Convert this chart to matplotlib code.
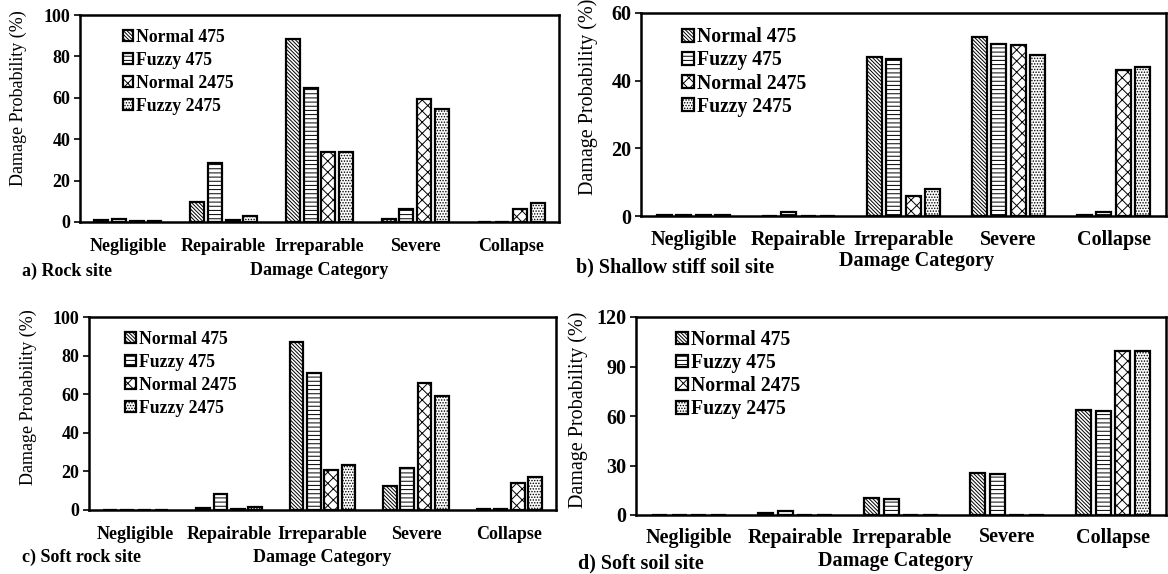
import matplotlib
matplotlib.use("Agg")
import matplotlib.pyplot as plt
import numpy as np

plt.rcParams['font.family'] = ['Liberation Serif', 'DejaVu Serif']
plt.rcParams['hatch.linewidth'] = 0.7

categories = ["Negligible", "Repairable", "Irreparable", "Severe", "Collapse"]
series_names = ["Normal 475", "Fuzzy 475", "Normal 2475", "Fuzzy 2475"]

# a) Rock site
rock_normal475 = [0.8, 9.8, 88.6, 1.3, 0.2]
rock_fuzzy475 = [1.3, 28.5, 64.9, 6.1, 0.2]
rock_normal2475 = [0.3, 1.0, 33.7, 59.4, 6.1]
rock_fuzzy2475 = [0.3, 2.7, 33.7, 54.6, 9.2]

# b) Shallow stiff soil site
stiff_normal475 = [0.2, 0.1, 47.0, 52.9, 0.2]
stiff_fuzzy475 = [0.2, 1.2, 46.4, 50.9, 1.1]
stiff_normal2475 = [0.2, 0.1, 6.0, 50.6, 43.2]
stiff_fuzzy2475 = [0.2, 0.1, 8.1, 47.6, 44.1]

# c) Soft rock site
softrock_normal475 = [0.2, 1.0, 87.1, 12.2, 0.3]
softrock_fuzzy475 = [0.2, 8.1, 70.9, 21.6, 0.3]
softrock_normal2475 = [0.2, 0.3, 20.5, 66.0, 13.8]
softrock_fuzzy2475 = [0.2, 1.7, 23.3, 59.1, 16.9]

# d) Soft soil site
softsoil_normal475 = [0.2, 1.2, 10.5, 25.3, 63.4]
softsoil_fuzzy475 = [0.2, 2.6, 9.9, 24.6, 63.0]
softsoil_normal2475 = [0.2, 0.3, 0.3, 0.3, 99.6]
softsoil_fuzzy2475 = [0.2, 0.3, 0.3, 0.3, 99.6]

ticks_a = [0, 20, 40, 60, 80, 100]
ticks_b = [0, 20, 40, 60]
ticks_c = [0, 20, 40, 60, 80, 100]
ticks_d = [0, 30, 60, 90, 120]

panel_titles = ["a) Rock site", "b) Shallow stiff soil site", "c) Soft rock site", "d) Soft soil site"]

hatches = ['\\' * 9, '-' * 4, 'xxx', '.' * 6]

W, H = 1168, 574
fig = plt.figure(figsize=(W / 100, H / 100), dpi=100)


def px_axes(left, right, top, bottom):
    return fig.add_axes([left / W, (H - bottom) / H, (right - left) / W, (bottom - top) / H])


panels = [
    dict(box=(80, 559, 15, 222), data=[rock_normal475, rock_fuzzy475, rock_normal2475, rock_fuzzy2475],
         ticks=ticks_a, ylc=(-0.111, 0.60), xlc=(0.5, -0.232), title_xy=(22, 271), legend=(0.089, 0.932),
         fs=13, pad=11.5, ls=0.33),
    dict(box=(641, 1166, 13, 216), data=[stiff_normal475, stiff_fuzzy475, stiff_normal2475, stiff_fuzzy2475],
         ticks=ticks_b, ylc=(-0.082, 0.586), xlc=(0.524, -0.22), title_xy=(576, 267), legend=(0.078, 0.93),
         fs=14.5, pad=10, ls=0.16),
    dict(box=(89, 556, 317, 510), data=[softrock_normal475, softrock_fuzzy475, softrock_normal2475, softrock_fuzzy2475],
         ticks=ticks_c, ylc=(-0.111, 0.585), xlc=(0.5, -0.244), title_xy=(22, 557), legend=(0.078, 0.927),
         fs=13, pad=11.5, ls=0.33),
    dict(box=(636, 1166, 317, 515), data=[softsoil_normal475, softsoil_fuzzy475, softsoil_normal2475, softsoil_fuzzy2475],
         ticks=ticks_d, ylc=(-0.09, 0.53), xlc=(0.489, -0.232), title_xy=(578, 563), legend=(0.076, 0.935),
         fs=14.5, pad=9, ls=0.16),
]

x = np.arange(len(categories))
bw = 0.145
step = 0.185

for p, title in zip(panels, panel_titles):
    fs = p['fs']
    ax = px_axes(*p['box'])
    for i, (vals, name, h) in enumerate(zip(p['data'], series_names, hatches)):
        ax.bar(x + (i - 1.5) * step, vals, width=bw, color='white', edgecolor='black',
               linewidth=1.6, hatch=h, label=name, zorder=2)
    ax.set_xlim(-0.5, len(categories) - 0.5)
    ax.set_ylim(p['ticks'][0], p['ticks'][-1])
    ax.set_yticks(p['ticks'])
    ax.set_xticks(x)
    ax.set_xticklabels(categories, fontsize=fs, fontweight='bold')
    ax.tick_params(axis='x', length=0, pad=p['pad'])
    ax.tick_params(axis='y', direction='out', length=4, width=1.2, labelsize=fs, pad=3)
    for lab in ax.get_yticklabels():
        lab.set_fontweight('bold')
    for s in ax.spines.values():
        s.set_linewidth(1.8)
    ax.set_ylabel("Damage Probability (%)", fontsize=fs)
    ax.yaxis.set_label_coords(*p['ylc'])
    ax.set_xlabel("Damage Category", fontsize=fs, fontweight='bold')
    ax.xaxis.set_label_coords(*p['xlc'])
    ax.xaxis.label.set_va('center')
    leg = ax.legend(loc='upper left', bbox_to_anchor=p['legend'], frameon=False,
                    prop={'size': fs - 0.3, 'weight': 'bold'},
                    handlelength=0.6, handleheight=0.6, handletextpad=0.15, labelspacing=p['ls'],
                    borderaxespad=0.0, borderpad=0.0)
    tx, ty = p['title_xy']
    fig.text(tx / W, (H - ty) / H, title, fontsize=fs, fontweight='bold', ha='left', va='center')

fig.savefig("out.png", dpi=100)
